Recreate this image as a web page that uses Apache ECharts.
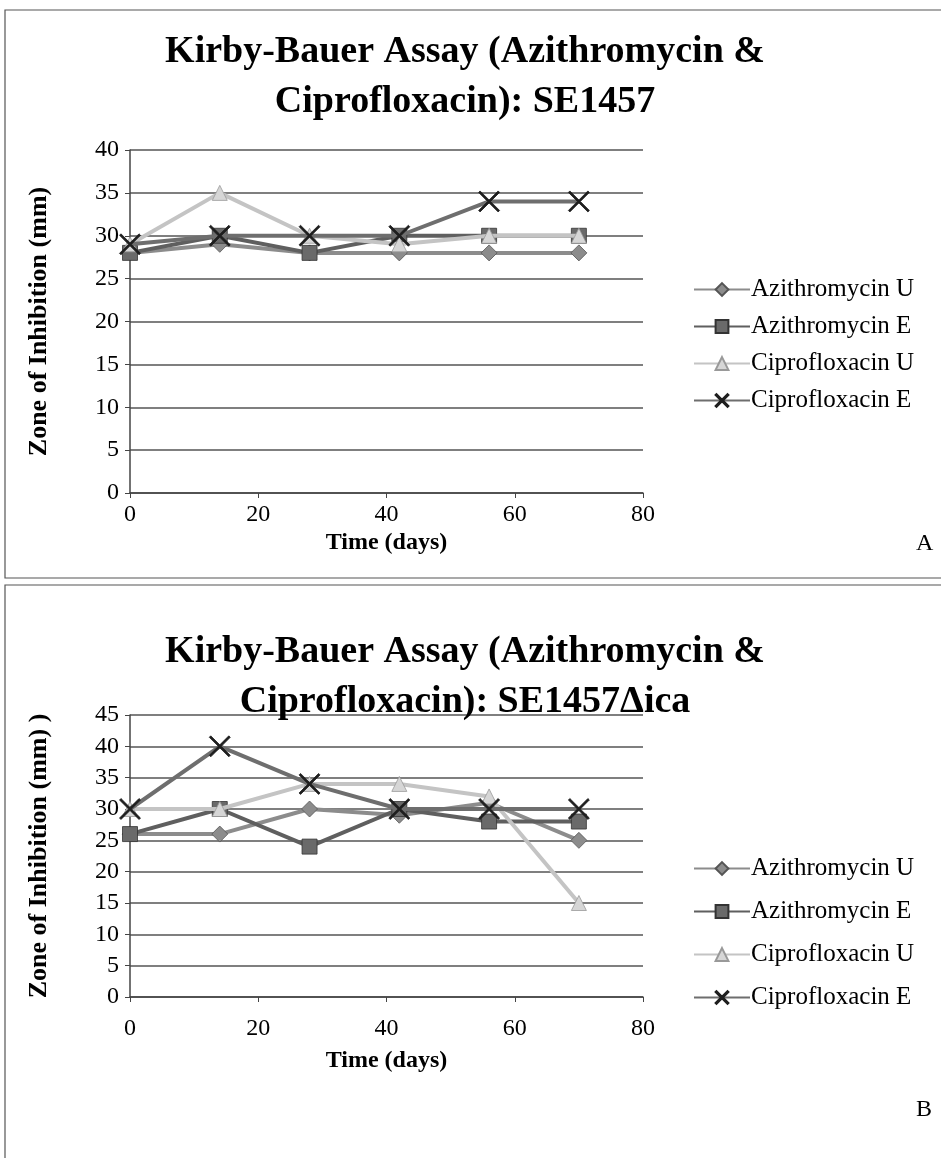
<!DOCTYPE html>
<html>
<head>
<meta charset="utf-8">
<script src="https://cdn.jsdelivr.net/npm/echarts@6/dist/echarts.min.js"></script>
<style>
  html, body { margin: 0; padding: 0; background: #fff; }
  #chart { width: 941px; height: 1158px; }
</style>
</head>
<body>
<div id="chart"></div>
<script>
// sampling days (x values)
var days = [0, 14, 28, 42, 56, 70]
var seriesNames = ['Azithromycin U', 'Azithromycin E', 'Ciprofloxacin U', 'Ciprofloxacin E']

// panel A: SE1457
var aAziU = [28, 29, 28, 28, 28, 28]
var aAziE = [28, 30, 28, 30, 30, 30]
var aCipU = [29, 35, 30, 29, 30, 30]
var aCipE = [29, 30, 30, 30, 34, 34]

// panel B: SE1457Δica
var bAziU = [26, 26, 30, 29, 31, 25]
var bAziE = [26, 30, 24, 30, 28, 28]
var bCipU = [30, 30, 34, 34, 32, 15]
var bCipE = [30, 40, 34, 30, 30, 30]

var serif = 'Liberation Serif'
// thin X marker
var xMark = 'path://M0,0.7L0.7,0L5,4.3L9.3,0L10,0.7L5.7,5L10,9.3L9.3,10L5,5.7L0.7,10L0,9.3L4.3,5Z'

var looks = [
  {symbol: 'diamond', size: 16, line: '#8c8c8c', fill: '#8c8c8c', border: '#555'},
  {symbol: 'rect', size: 15, line: '#5f5f5f', fill: '#6a6a6a', border: '#333'},
  {symbol: 'triangle', size: 15, line: '#c4c4c4', fill: '#d6d6d6', border: '#999'},
  {symbol: xMark, size: 21, line: '#6e6e6e', fill: '#1e1e1e', border: '#1e1e1e'}
]

function pairs(vals) {
  var out = []
  for (var i = 0; i < days.length; i++) {
    out.push([days[i], vals[i]])
  }
  return out
}

function makeSeries(idx, vals, k) {
  var lk = looks[k]
  return {
    name: seriesNames[k],
    type: 'line',
    xAxisIndex: idx,
    yAxisIndex: idx,
    data: pairs(vals),
    symbol: lk.symbol,
    symbolSize: lk.size,
    showAllSymbol: true,
    z: 3 + k,
    itemStyle: {color: lk.fill, borderColor: lk.border, borderWidth: 0.8},
    lineStyle: {color: lk.line, width: 4},
    animation: false
  }
}

function xAxisFor(idx, labelMargin, nameGap) {
  return {
    gridIndex: idx,
    type: 'value',
    min: 0,
    max: 80,
    interval: 20,
    name: 'Time (days)',
    nameLocation: 'middle',
    nameGap: nameGap,
    nameTextStyle: {fontFamily: serif, fontWeight: 'bold', fontSize: 24, color: '#000'},
    axisLine: {show: true, onZero: false, lineStyle: {color: '#444', width: 1.5}},
    axisTick: {show: true, length: 5, lineStyle: {color: '#444'}},
    axisLabel: {fontFamily: serif, fontSize: 24, color: '#000', margin: labelMargin},
    splitLine: {show: false}
  }
}

function yAxisFor(idx, max, name) {
  return {
    gridIndex: idx,
    type: 'value',
    min: 0,
    max: max,
    interval: 5,
    name: name,
    nameLocation: 'middle',
    nameGap: 78,
    nameTextStyle: {fontFamily: serif, fontWeight: 'bold', fontSize: 26, color: '#000'},
    axisLine: {show: true, lineStyle: {color: '#444', width: 1.5}},
    axisTick: {show: true, length: 5, lineStyle: {color: '#444'}},
    axisLabel: {fontFamily: serif, fontSize: 24, color: '#000', margin: 11},
    splitLine: {show: true, lineStyle: {color: '#555', width: 1.5}}
  }
}

function legendFor(top, gap) {
  return {
    orient: 'vertical',
    left: 688,
    top: top,
    itemWidth: 56,
    itemHeight: 16,
    itemGap: gap,
    data: seriesNames,
    selectedMode: false,
    textStyle: {fontFamily: serif, fontSize: 25, color: '#000', padding: [0, 0, 0, -4]}
  }
}

var titleStyle = {fontFamily: serif, fontWeight: 'bold', fontSize: 38, lineHeight: 50, color: '#000'}

var option = {
  backgroundColor: '#fff',
  animation: false,
  title: [
    {text: 'Kirby-Bauer Assay (Azithromycin &\nCiprofloxacin): SE1457', left: 460, top: 22, textAlign: 'center', textStyle: titleStyle},
    {text: 'Kirby-Bauer Assay (Azithromycin &\nCiprofloxacin): SE1457\u0394ica', left: 460, top: 622, textAlign: 'center', textStyle: titleStyle}
  ],
  legend: [legendFor(272, 12), legendFor(851, 18)],
  grid: [
    {left: 130, right: 298, top: 150, height: 343},
    {left: 130, right: 298, top: 715, height: 282}
  ],
  xAxis: [xAxisFor(0, 10, 38), xAxisFor(1, 20, 52)],
  yAxis: [yAxisFor(0, 40, 'Zone of Inhibition (mm)'), yAxisFor(1, 45, 'Zone of Inhibition (mm) )')],
  series: [
    makeSeries(0, aAziU, 0), makeSeries(0, aAziE, 1), makeSeries(0, aCipU, 2), makeSeries(0, aCipE, 3),
    makeSeries(1, bAziU, 0), makeSeries(1, bAziE, 1), makeSeries(1, bCipU, 2), makeSeries(1, bCipE, 3)
  ],
  graphic: [
    {type: 'rect', shape: {x: 5, y: 10, width: 960, height: 568}, style: {fill: 'none', stroke: '#555', lineWidth: 1.2}},
    {type: 'rect', shape: {x: 5, y: 585, width: 960, height: 600}, style: {fill: 'none', stroke: '#555', lineWidth: 1.2}},
    {type: 'text', left: 916, top: 532, style: {text: 'A', fontFamily: serif, fontSize: 24, fill: '#000'}},
    {type: 'text', left: 916, top: 1098, style: {text: 'B', fontFamily: serif, fontSize: 24, fill: '#000'}}
  ]
}

var myChart = echarts.init(document.getElementById('chart'), null, {renderer: 'canvas'})
myChart.setOption(option)
</script>
</body>
</html>
